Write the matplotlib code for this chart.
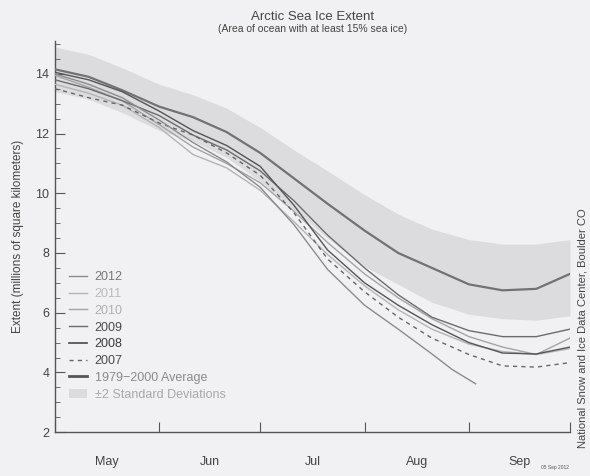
import matplotlib
matplotlib.use('Agg')
import matplotlib.pyplot as plt
from matplotlib.lines import Line2D
from matplotlib.patches import Patch
from matplotlib.ticker import MultipleLocator

plt.rcParams['font.family'] = ['Liberation Sans', 'DejaVu Sans']

# day of season, counted from 1 May
days = [0, 10, 20, 31, 41, 51, 61, 71, 81, 92, 102, 112, 123, 133, 143, 153]
days_2012 = [0, 10, 20, 31, 41, 51, 61, 71, 81, 92, 102, 112, 118, 125]

# extent, millions of km^2
avg_7900 = [14.15, 13.9, 13.45, 12.9, 12.55, 12.05, 11.35, 10.5, 9.65, 8.75, 8.0, 7.5, 6.95, 6.75, 6.8, 7.3]
sd_upper = [14.9, 14.65, 14.2, 13.65, 13.3, 12.85, 12.2, 11.45, 10.75, 9.95, 9.3, 8.8, 8.45, 8.3, 8.3, 8.45]
sd_lower = [13.4, 13.15, 12.7, 12.1, 11.75, 11.2, 10.4, 9.45, 8.5, 7.55, 6.95, 6.35, 5.95, 5.8, 5.75, 5.9]

ext_2012 = [14.0, 13.65, 13.2, 12.45, 11.7, 11.05, 10.2, 8.95, 7.45, 6.25, 5.45, 4.62, 4.1, 3.62]
ext_2011 = [13.65, 13.35, 12.95, 12.2, 11.3, 10.85, 10.1, 9.05, 7.95, 6.9, 6.1, 5.45, 4.95, 4.7, 4.6, 4.8]
ext_2010 = [13.95, 13.55, 13.1, 12.3, 11.55, 11.0, 10.35, 9.4, 8.35, 7.3, 6.5, 5.8, 5.2, 4.85, 4.6, 5.15]
ext_2009 = [13.8, 13.5, 13.1, 12.6, 11.95, 11.45, 10.75, 9.75, 8.6, 7.5, 6.6, 5.85, 5.4, 5.2, 5.2, 5.45]
ext_2008 = [14.05, 13.8, 13.4, 12.75, 12.1, 11.6, 10.9, 9.6, 8.1, 7.0, 6.25, 5.6, 5.0, 4.65, 4.62, 4.85]
ext_2007 = [13.5, 13.2, 12.95, 12.35, 11.95, 11.35, 10.6, 9.35, 7.8, 6.7, 5.85, 5.15, 4.6, 4.22, 4.18, 4.33]

month_edges = [0, 31, 61, 92, 123, 153]
month_mid = [15.5, 46, 76.5, 107.5, 138]
month_names = ['May', 'Jun', 'Jul', 'Aug', 'Sep']

fig = plt.figure(figsize=(5.9, 4.76), dpi=100, facecolor='#f1f1f3')
ax = fig.add_axes([0.093, 0.092, 0.873, 0.822])
ax.set_facecolor('none')

ax.fill_between(days, sd_lower, sd_upper, color='#dcdcde', lw=0, zorder=1)
ax.plot(days, avg_7900, color='#727272', lw=1.6, zorder=3)
ax.plot(days, ext_2011, color='#b4b4b4', lw=1.0, zorder=4)
ax.plot(days, ext_2010, color='#a4a4a4', lw=1.0, zorder=4)
ax.plot(days, ext_2009, color='#6c6c6c', lw=1.0, zorder=5)
ax.plot(days, ext_2008, color='#555555', lw=1.0, zorder=5)
ax.plot(days, ext_2007, color='#666666', lw=1.0, ls=(0, (3, 3)), zorder=5)
ax.plot(days_2012, ext_2012, color='#8c8c8c', lw=1.0, zorder=6)

ax.set_xlim(0, 153)
ax.set_ylim(2, 15.1)
ax.set_xticks(month_edges)
ax.set_xticklabels([])
ax.set_xticks(month_mid, minor=True)
ax.set_xticklabels(month_names, minor=True, fontsize=9, color='#444444')
ax.tick_params(axis='x', which='major', direction='in', length=7, color='#555555')
ax.tick_params(axis='x', which='minor', length=0, pad=17)

ax.set_yticks([2, 4, 6, 8, 10, 12, 14])
ax.yaxis.set_minor_locator(MultipleLocator(0.5))
ax.tick_params(axis='y', which='major', direction='in', length=7, color='#555555',
               labelsize=9, labelcolor='#444444', pad=4)
ax.tick_params(axis='y', which='minor', direction='in', length=3.5, color='#555555')

for s in ['top', 'right']:
    ax.spines[s].set_visible(False)
for s in ['left', 'bottom']:
    ax.spines[s].set_color('#555555')
    ax.spines[s].set_linewidth(1.0)

ax.set_ylabel('Extent (millions of square kilometers)', fontsize=8.5, color='#444444', labelpad=8)

fig.text(0.53, 0.965, 'Arctic Sea Ice Extent', ha='center', va='center', fontsize=9.5, color='#444444')
fig.text(0.53, 0.940, '(Area of ocean with at least 15% sea ice)', ha='center', va='center',
         fontsize=7.5, color='#444444')
fig.text(0.988, 0.31, 'National Snow and Ice Data Center, Boulder CO', rotation=90,
         ha='center', va='center', fontsize=8, color='#444444')
fig.text(0.94, 0.017, '05 Sep 2012', ha='center', va='center', fontsize=3.5, color='#555555')

handles = [
    Line2D([], [], color='#8c8c8c', lw=1.0),
    Line2D([], [], color='#b4b4b4', lw=1.0),
    Line2D([], [], color='#a4a4a4', lw=1.0),
    Line2D([], [], color='#6c6c6c', lw=1.0),
    Line2D([], [], color='#555555', lw=1.3),
    Line2D([], [], color='#666666', lw=1.0, ls=(0, (3, 3))),
    Line2D([], [], color='#555555', lw=2.0),
    Patch(facecolor='#dcdcde', edgecolor='none'),
]
labels = ['2012', '2011', '2010', '2009', '2008', '2007', '1979\u22122000 Average', '\u00b12 Standard Deviations']
text_colors = ['#777777', '#bbbbbb', '#b0b0b0', '#4a4a4a', '#3c3c3c', '#4a4a4a', '#8a8a8a', '#a8a8a8']

leg = fig.legend(handles, labels, loc='upper left', bbox_to_anchor=(0.117, 0.43),
                 frameon=False, fontsize=9, handlelength=1.45, handletextpad=0.6,
                 labelspacing=0.38, borderpad=0, borderaxespad=0)
for t, c in zip(leg.get_texts(), text_colors):
    t.set_color(c)

fig.savefig('out.png', dpi=100, facecolor=fig.get_facecolor())
